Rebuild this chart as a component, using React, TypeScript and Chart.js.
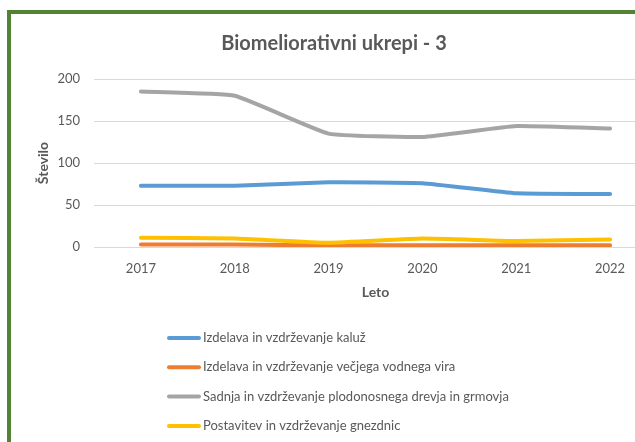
import React, { useEffect, useRef } from "react";
import { Chart, registerables } from "chart.js";

Chart.register(...registerables);

const title = "Biomeliorativni ukrepi - 3";
const xTitle = "Leto";
const yTitle = "Število";
const years = ["2017", "2018", "2019", "2020", "2021", "2022"];

const seriesNames = [
  "Izdelava in vzdrževanje kaluž",
  "Izdelava in vzdrževanje večjega vodnega vira",
  "Sadnja in vzdrževanje plodonosnega drevja in grmovja",
  "Postavitev in vzdrževanje gnezdnic",
];
const kaluze = [73, 73, 77, 76, 64, 63];
const vodniVir = [3, 3, 2, 2, 2, 2];
const sadnja = [185, 180, 135, 131, 144, 141];
const gnezdnice = [11, 10, 5, 10, 7, 9];
const seriesColors = ["#5B9BD5", "#ED7D31", "#A5A5A5", "#FFC000"];

const yMin = 0;
const yMax = 200;
const yStep = 50;

const FONT = "Lato, 'Open Sans', sans-serif";
const TEXT = "#595959";

const legendPlugin = {
  id: "verticalLegend",
  afterDraw(chart: any) {
    const ctx = chart.ctx;
    ctx.save();
    chart.data.datasets.forEach((ds: any, i: number) => {
      const y = 324 + i * 29.3;
      ctx.strokeStyle = ds.borderColor;
      ctx.lineWidth = 4;
      ctx.lineCap = "round";
      ctx.beginPath();
      ctx.moveTo(158, y);
      ctx.lineTo(188, y);
      ctx.stroke();
      ctx.fillStyle = TEXT;
      ctx.font = `13px ${FONT}`;
      ctx.textBaseline = "middle";
      ctx.textAlign = "left";
      ctx.fillText(ds.label, 192, y);
    });
    ctx.restore();
  },
};

export default function App() {
  const ref = useRef<HTMLCanvasElement | null>(null);
  useEffect(() => {
    if (!ref.current) return;
    const values = [kaluze, vodniVir, sadnja, gnezdnice];
    const chart = new Chart(ref.current, {
      type: "line",
      data: {
        labels: years,
        datasets: values.map((v, i) => ({
          label: seriesNames[i],
          data: v,
          borderColor: seriesColors[i],
          backgroundColor: seriesColors[i],
          borderWidth: 4,
          pointRadius: 0,
          tension: 0.12,
          borderCapStyle: "round" as const,
          borderJoinStyle: "round" as const,
          order: values.length - i,
        })),
      },
      options: {
        responsive: false,
        animation: false,
        layout: { padding: { left: 0, right: 22, top: 0, bottom: 167 } },
        plugins: {
          legend: { display: false },
          tooltip: { enabled: false },
          title: {
            display: true,
            text: title,
            color: TEXT,
            font: { family: FONT, size: 20, weight: "bold" },
            padding: { top: 18, bottom: 23 },
          },
        },
        scales: {
          x: {
            offset: true,
            grid: { display: false, drawTicks: false },
            border: { display: false },
            ticks: { color: TEXT, font: { family: FONT, size: 13 }, padding: 14, maxRotation: 0 },
            title: {
              display: true,
              text: xTitle,
              color: TEXT,
              font: { family: FONT, size: 14, weight: "bold" },
              padding: { top: 0, bottom: 6 },
            },
            afterFit(scale: any) {
              scale.height = 60;
            },
          },
          y: {
            min: yMin,
            max: yMax,
            grid: { color: "#D9D9D9", lineWidth: 1, drawTicks: false },
            border: { display: false },
            ticks: { stepSize: yStep, color: TEXT, font: { family: FONT, size: 13 }, padding: 14 },
            title: {
              display: true,
              text: yTitle,
              color: TEXT,
              font: { family: FONT, size: 14, weight: "bold" },
              padding: { top: 24, bottom: 0 },
            },
            afterFit(scale: any) {
              scale.width = 83;
            },
          },
        },
      },
      plugins: [legendPlugin],
    });
    return () => chart.destroy();
  }, []);

  return (
    <div style={{ position: "fixed", inset: 0, overflow: "hidden", background: "#fff" }}>
      <div
        style={{
          position: "absolute",
          left: 7,
          top: 10,
          width: 668,
          height: 460,
          border: "4px solid #548235",
          background: "#fff",
        }}
      >
        <canvas ref={ref} width={668} height={460} style={{ display: "block" }} />
      </div>
    </div>
  );
}
